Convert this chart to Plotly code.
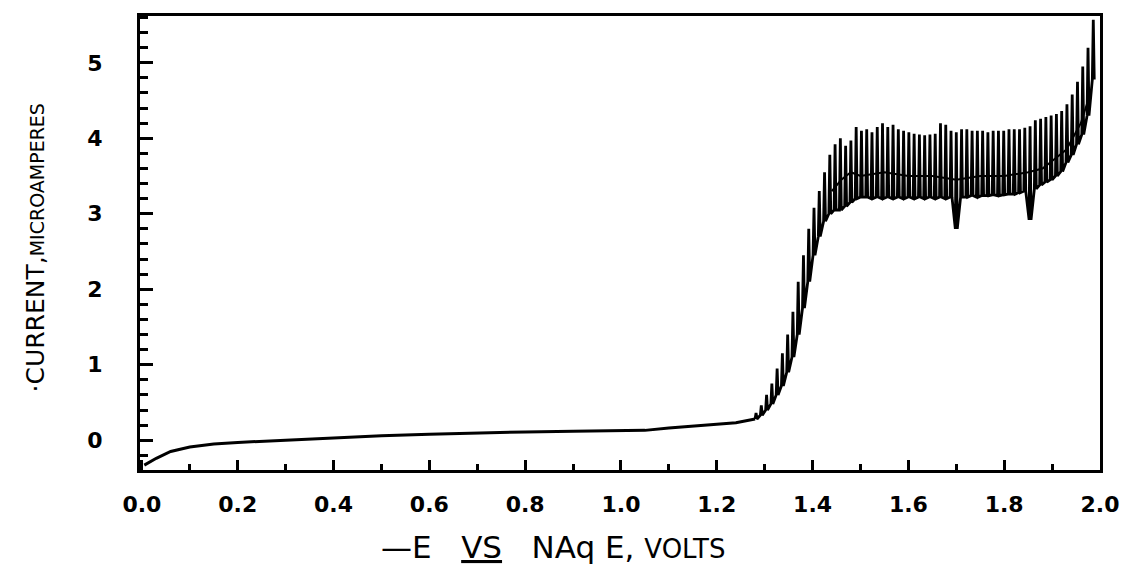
import plotly.graph_objects as go

# Baseline (residual current)
base_e = [0.005, 0.03, 0.06, 0.10, 0.15, 0.20, 0.30, 0.40, 0.50, 0.60, 0.70, 0.80,
          0.90, 1.00, 1.05, 1.10, 1.15, 1.20, 1.24, 1.26, 1.275]
base_i = [-0.33, -0.24, -0.15, -0.09, -0.05, -0.03, 0.00, 0.03, 0.06, 0.08, 0.10, 0.11,
          0.12, 0.13, 0.13, 0.16, 0.19, 0.21, 0.23, 0.26, 0.28]

# Drop-by-drop oscillation: potential, minimum and maximum current
osc_e = [1.280, 1.291, 1.302, 1.313, 1.324, 1.335, 1.346, 1.357, 1.368, 1.379,
         1.390, 1.401, 1.412, 1.423, 1.434, 1.445, 1.456, 1.467, 1.478, 1.489,
         1.500, 1.511, 1.522, 1.533, 1.544, 1.555, 1.566, 1.577, 1.588, 1.599,
         1.610, 1.621, 1.632, 1.643, 1.654, 1.665, 1.676, 1.687, 1.698, 1.709,
         1.720, 1.731, 1.742, 1.753, 1.764, 1.775, 1.786, 1.797, 1.808, 1.819,
         1.830, 1.841, 1.852, 1.863, 1.874, 1.885, 1.896, 1.907, 1.918, 1.929,
         1.940, 1.951, 1.962, 1.973, 1.984]
osc_low = [0.28, 0.33, 0.40, 0.48, 0.60, 0.72, 0.90, 1.10, 1.40, 1.75,
           2.10, 2.45, 2.70, 2.90, 3.00, 3.05, 3.05, 3.10, 3.15, 3.20,
           3.22, 3.22, 3.20, 3.22, 3.20, 3.22, 3.20, 3.22, 3.20, 3.22,
           3.20, 3.22, 3.20, 3.22, 3.20, 3.22, 3.20, 3.22, 2.80, 3.22,
           3.22, 3.24, 3.22, 3.24, 3.24, 3.25, 3.24, 3.25, 3.26, 3.26,
           3.28, 3.30, 2.92, 3.33, 3.38, 3.42, 3.45, 3.50, 3.56, 3.68,
           3.78, 3.92, 4.05, 4.30, 4.78]
osc_high = [0.36, 0.46, 0.60, 0.75, 0.95, 1.15, 1.40, 1.70, 2.10, 2.45,
            2.80, 3.08, 3.30, 3.55, 3.78, 3.92, 4.00, 3.90, 3.97, 4.15,
            4.10, 4.12, 4.08, 4.15, 4.20, 4.15, 4.18, 4.12, 4.10, 4.08,
            4.06, 4.05, 4.04, 4.05, 4.06, 4.20, 4.18, 4.10, 4.08, 4.12,
            4.12, 4.10, 4.10, 4.10, 4.08, 4.10, 4.10, 4.10, 4.12, 4.12,
            4.12, 4.14, 4.16, 4.24, 4.26, 4.28, 4.30, 4.32, 4.36, 4.45,
            4.58, 4.75, 4.95, 5.20, 5.57]

# Mean pen path through the oscillations
mean_e = [1.44, 1.46, 1.48, 1.50, 1.55, 1.60, 1.65, 1.70, 1.75, 1.80, 1.85,
          1.88, 1.90, 1.93, 1.96, 1.98]
mean_i = [3.30, 3.45, 3.55, 3.50, 3.55, 3.50, 3.50, 3.45, 3.50, 3.50, 3.55,
          3.60, 3.70, 3.85, 4.20, 4.60]

x_ticks = [0.0, 0.2, 0.4, 0.6, 0.8, 1.0, 1.2, 1.4, 1.6, 1.8, 2.0]
x_labels = ["0.0", "0.2", "0.4", "0.6", "0.8", "1.0", "1.2", "1.4", "1.6", "1.8", "2.0"]
y_ticks = [0, 1, 2, 3, 4, 5]
y_labels = ["0", "1", "2", "3", "4", "5"]

# build path for the oscillations (pen goes up and back down at each drop)
zx, zy = [], []
for e, lo, hi in zip(osc_e, osc_low, osc_high):
    zx += [e, e + 0.002, e + 0.004]
    zy += [lo, hi, lo]

fig = go.Figure()
fig.add_trace(go.Scatter(x=base_e + [osc_e[0]], y=base_i + [osc_low[0]], mode="lines",
                         line=dict(color="black", width=3), showlegend=False))
fig.add_trace(go.Scatter(x=zx, y=zy, mode="lines",
                         line=dict(color="black", width=2.8), showlegend=False))
fig.add_trace(go.Scatter(x=mean_e, y=mean_i, mode="lines",
                         line=dict(color="black", width=2), showlegend=False))

FONT = "DejaVu Sans"
# the page body adds an 8px offset; margins compensate
fig.update_layout(
    width=1139, height=573,
    margin=dict(l=132, r=47, t=5, b=111),
    paper_bgcolor="white", plot_bgcolor="white",
    font=dict(family=FONT, color="black"),
    xaxis=dict(range=[-0.004, 2.0], tickvals=x_ticks, ticktext=x_labels,
               ticks="inside", ticklen=10, tickwidth=2.5, tickcolor="black",
               minor=dict(dtick=0.1, tick0=0, ticks="inside", ticklen=6, tickwidth=2.5, tickcolor="black"),
               showline=True, linewidth=3, linecolor="black", mirror=True,
               showgrid=False, zeroline=False,
               tickfont=dict(family=FONT, size=22, color="black", weight="bold"), ticklabelstandoff=13),
    yaxis=dict(range=[-0.395, 5.62], tickvals=y_ticks, ticktext=y_labels,
               ticks="inside", ticklen=13, tickwidth=2.5, tickcolor="black",
               minor=dict(dtick=0.2, tick0=0, ticks="inside", ticklen=8, tickwidth=2.5, tickcolor="black"),
               showline=True, linewidth=3, linecolor="black", mirror=True,
               showgrid=False, zeroline=False,
               tickfont=dict(family=FONT, size=22, color="black", weight="bold"), ticklabelstandoff=30),
)

fig.add_annotation(
    text="·CURRENT,<span style='font-size:19px'>MICROAMPERES</span>",
    xref="paper", yref="paper", x=(35 - 140) / 960, y=(470 - 247) / 457, textangle=-90,
    showarrow=False, font=dict(family=FONT, size=25, color="black"),
    xanchor="center", yanchor="middle")

fig.add_annotation(
    text="—E   <span style='text-decoration:underline'>VS</span>   NAq E, <span style='font-size:26px'>VOLTS</span>",
    xref="paper", yref="paper", x=(553 - 140) / 960, y=(470 - 548) / 457,
    showarrow=False, font=dict(family=FONT, size=31, color="black"),
    xanchor="center", yanchor="middle")

fig.write_html("out.html")
